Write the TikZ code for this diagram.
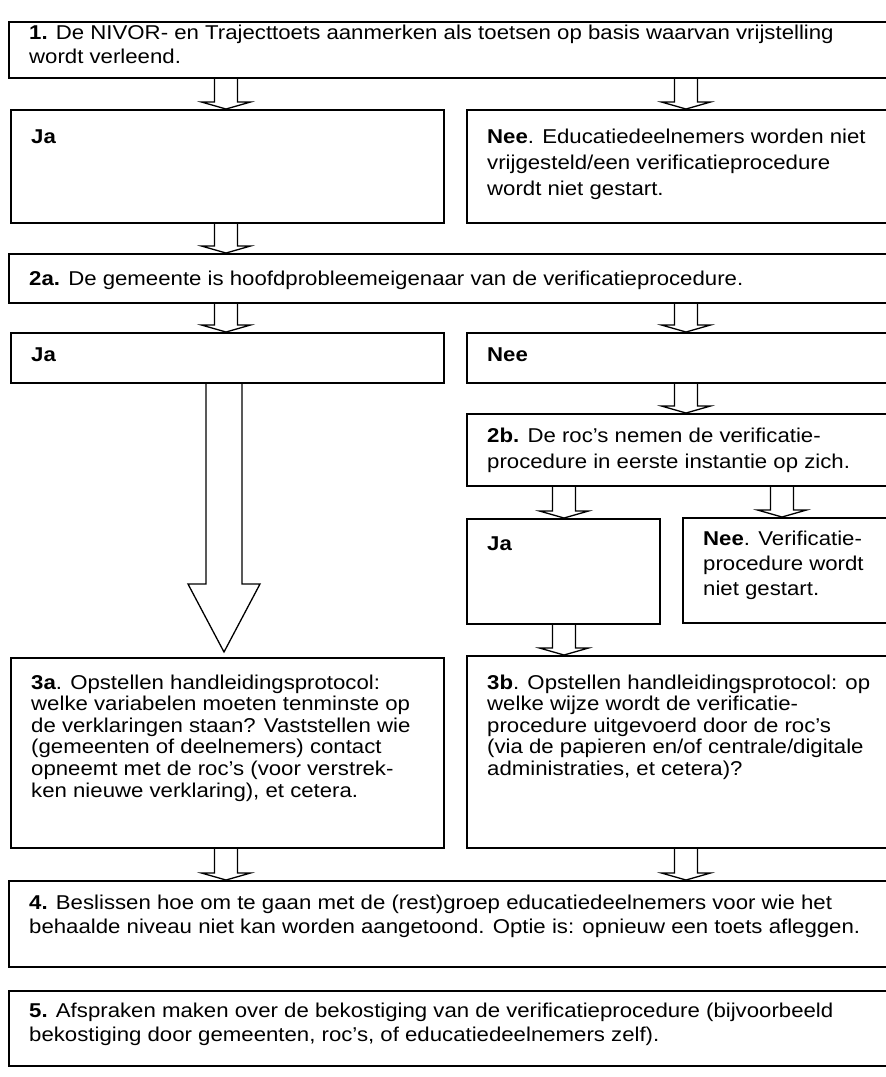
\documentclass[tikz,border=0pt]{standalone}
\usepackage{fontspec}
\setmainfont{Liberation Sans}[FakeStretch=1.11]
\usetikzlibrary{calc}
\def\blockarrow[#1](#2)(#3)(#4:#5:#6){\draw[#1] ($(#2)+(-#4,0)$) -- ($(#3)+(-#4,-#6)$) -- ($(#3)+(-#5,-#6)$) -- (#3) -- ($(#3)+(#5,-#6)$) -- ($(#3)+(#4,-#6)$) -- ($(#2)+(#4,0)$);}
\def\boxlines#1{\parbox[t]{880pt}{#1}}

\begin{document}
\begin{tikzpicture}[x=1pt, y=-1pt,
	box/.style={draw, line width=1.9pt, anchor=north west, inner sep=0pt},
	txt/.style={anchor=base west, inner sep=0pt, font=\fontsize{20}{#1}\selectfont},
	txt/.default=24,
	flow/.style={line width=1.3pt, line join=miter}]
			%%%%% START %%%%%
			
			\useasboundingbox (0,0) rectangle (886,1077);
			
			\coordinate (xl) at (226,0);
			\coordinate (xr) at (686,0);
			\coordinate (xm) at (564,0);
			\coordinate (xn) at (782,0);
			\coordinate (xb) at (224,0);
			
			\node[box, minimum width=902, minimum height=56] (b1) at (8,21) {};
			\node[txt] (t1) at ($(b1.north west)+(21,18)$) {\boxlines{\textbf{1.} De NIVOR- en Trajecttoets aanmerken als toetsen op basis waarvan vrijstelling\\wordt verleend.}};
			
			\node[box, minimum width=433, minimum height=113] (ja1) at (10,109) {};
			\node[txt] (tja1) at ($(ja1.north west)+(21,34)$) {\boxlines{\textbf{Ja}}};
			\node[box, minimum width=440, minimum height=113] (nee1) at (466,109) {};
			\node[txt=26] (tnee1) at ($(nee1.north west)+(21,34)$) {\boxlines{\textbf{Nee}. Educatiedeelnemers worden niet\\vrijgesteld/een verificatieprocedure\\wordt niet gestart.}};
			
			\node[box, minimum width=902, minimum height=49] (b2a) at (8,253) {};
			\node[txt] (t2a) at ($(b2a.north west)+(21,32)$) {\boxlines{\textbf{2a.} De gemeente is hoofdprobleemeigenaar van de verificatieprocedure.}};
			
			\node[box, minimum width=433, minimum height=50] (ja2) at (10,332) {};
			\node[txt] (tja2) at ($(ja2.north west)+(21,29)$) {\boxlines{\textbf{Ja}}};
			\node[box, minimum width=440, minimum height=50] (nee2) at (466,332) {};
			\node[txt] (tnee2) at ($(nee2.north west)+(21,29)$) {\boxlines{\textbf{Nee}}};
			
			\node[box, minimum width=440, minimum height=72] (b2b) at (466,413) {};
			\node[txt=26] (t2b) at ($(b2b.north west)+(21,29)$) {\boxlines{\textbf{2b.} De roc’s nemen de verificatie-\\procedure in eerste instantie op zich.}};
			
			\node[box, minimum width=193, minimum height=105] (ja3) at (466,518) {};
			\node[txt] (tja3) at ($(ja3.north west)+(21,32)$) {\boxlines{\textbf{Ja}}};
			\node[box, minimum width=224, minimum height=105] (nee3) at (682,517) {};
			\node[txt=25] (tnee3) at ($(nee3.north west)+(21,28)$) {\boxlines{\textbf{Nee}. Verificatie-\\procedure wordt\\niet gestart.}};
			
			\node[box, minimum width=433, minimum height=190] (b3a) at (10,657) {};
			\node[txt=21.6] (t3a) at ($(b3a.north west)+(21,32)$) {\boxlines{\textbf{3a}. Opstellen handleidingsprotocol:\\welke variabelen moeten tenminste op\\de verklaringen staan? Vaststellen wie\\(gemeenten of deelnemers) contact\\opneemt met de roc’s (voor verstrek-\\ken nieuwe verklaring), et cetera.}};
			\node[box, minimum width=440, minimum height=192] (b3b) at (466,655) {};
			\node[txt=21.6] (t3b) at ($(b3b.north west)+(21,34)$) {\boxlines{\textbf{3b}. Opstellen handleidingsprotocol: op\\welke wijze wordt de verificatie-\\procedure uitgevoerd door de roc’s\\(via de papieren en/of centrale/digitale\\administraties, et cetera)?}};
			
			\node[box, minimum width=902, minimum height=86] (b4) at (8,880) {};
			\node[txt] (t4) at ($(b4.north west)+(21,29)$) {\boxlines{\textbf{4.} Beslissen hoe om te gaan met de (rest)groep educatiedeelnemers voor wie het\\behaalde niveau niet kan worden aangetoond. Optie is: opnieuw een toets afleggen.}};
			
			\node[box, minimum width=902, minimum height=75] (b5) at (8,990) {};
			\node[txt] (t5) at ($(b5.north west)+(21,27)$) {\boxlines{\textbf{5.} Afspraken maken over de bekostiging van de verificatieprocedure (bijvoorbeeld\\bekostiging door gemeenten, roc’s, of educatiedeelnemers zelf).}};
			
			\blockarrow[flow](b1.south -| xl)(ja1.north -| xl)(11.5:24.5:7)
			\blockarrow[flow](b1.south -| xr)(nee1.north -| xr)(11.5:24.5:7)
			\blockarrow[flow](ja1.south -| xl)(b2a.north -| xl)(11.5:24.5:7)
			\blockarrow[flow](b2a.south -| xl)(ja2.north -| xl)(11.5:24.5:7)
			\blockarrow[flow](b2a.south -| xr)(nee2.north -| xr)(11.5:24.5:7)
			\blockarrow[flow](nee2.south -| xr)(b2b.north -| xr)(11.5:24.5:7)
			\blockarrow[flow](b2b.south -| xm)(ja3.north -| xm)(11.5:24.5:7)
			\blockarrow[flow](b2b.south -| xn)(nee3.north -| xn)(11.5:24.5:7)
			\blockarrow[flow](ja3.south -| xm)(b3b.north -| xm)(11.5:24.5:7)
			\blockarrow[flow](b3a.south -| xl)(b4.north -| xl)(11.5:24.5:7)
			\blockarrow[flow](b3b.south -| xr)(b4.north -| xr)(11.5:24.5:7)
			
			\coordinate (tipb) at ($(b3a.north -| xb)+(0,-5)$);
			\blockarrow[flow](ja2.south -| xb)(tipb)(18:36:68)
			
			%%%%% END %%%%%
\end{tikzpicture}
\end{document}
